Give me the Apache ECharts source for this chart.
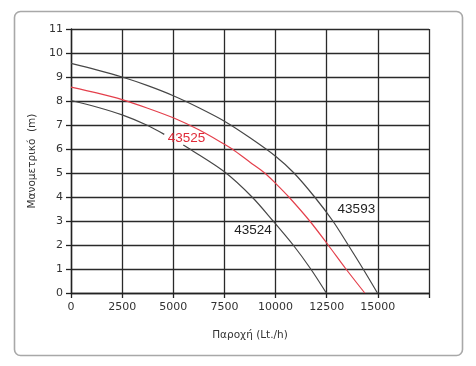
<!DOCTYPE html>
<html><head><meta charset="utf-8">
<script src="https://cdn.jsdelivr.net/npm/echarts@6/dist/echarts.min.js"></script>
<style>html,body{margin:0;padding:0;background:#fff}#c{width:476px;height:366px}</style>
</head><body><div id="c"></div>
<script>
const xTicks = [0, 2500, 5000, 7500, 10000, 12500, 15000];
const yTicks = [0,1,2,3,4,5,6,7,8,9,10,11];
const x43593 = [0, 1250, 2500, 3750, 5000, 6250, 7500, 8750, 10000, 10900, 11910, 12800, 13550, 14280, 14980];
const y43593 = [9.57, 9.3, 9.0, 8.64, 8.22, 7.72, 7.16, 6.47, 5.7, 5.0, 4.0, 3.0, 2.0, 1.0, 0];
const x43525 = [0, 1250, 2500, 3750, 5000, 6250, 7500, 7880, 8750, 9470, 10000, 10650, 11670, 12570, 13440, 14360];
const y43525 = [8.58, 8.34, 8.06, 7.7, 7.3, 6.8, 6.2, 6.0, 5.45, 5.0, 4.57, 4.0, 3.0, 2.0, 1.0, 0];
const x43524 = [0, 1250, 2500, 3750, 4560, 5000, 5490, 5810, 7500, 8850, 9880, 10860, 11720, 12480];
const y43524 = [8.02, 7.75, 7.42, 6.98, 6.61, null, 6.17, 6.0, 5.05, 4.0, 3.0, 2.0, 1.0, 0];
const seriesNames = ['43593', '43525', '43524'];
const labelX = [13950, 5650, 8900];
const labelY = [3.5, 6.45, 2.6];

const zip = (xs, ys) => xs.map((x, i) => [x, ys[i]]);
const colors = ['#474747', '#e4404c', '#474747'];
const data = [zip(x43593, y43593), zip(x43525, y43525), zip(x43524, y43524)];

const chart = echarts.init(document.getElementById('c'), null, {renderer: 'canvas'});
chart.setOption({
  animation: false,
  graphic: [{
    type: 'rect', left: 12, top: 9,
    shape: {width: 448, height: 344, r: 6},
    style: {fill: 'none', stroke: '#a8a8a8', lineWidth: 1.6}, z: -1
  }],
  grid: {left: 71, right: 47, top: 29, bottom: 73},
  xAxis: {
    type: 'value', min: 0, max: 17500, interval: 2500,
    name: 'Παροχή (Lt./h)', nameLocation: 'middle', nameGap: 37,
    nameTextStyle: {fontFamily: 'DejaVu Sans', fontSize: 10.5, color: '#333'},
    axisLine: {show: true, lineStyle: {color: '#222', width: 1.4}},
    axisTick: {show: true, length: 5, lineStyle: {color: '#222', width: 1.3}},
    axisLabel: {
      fontFamily: 'DejaVu Sans', fontSize: 11, color: '#333', margin: 9,
      formatter: v => xTicks.includes(v) ? String(v) : ''
    },
    splitLine: {show: true, lineStyle: {color: '#2a2a2a', width: 1.3}}
  },
  yAxis: {
    type: 'value', min: 0, max: 11, interval: 1,
    name: 'Μανομετρικό  (m)', nameLocation: 'middle', nameGap: 21,
    nameTextStyle: {fontFamily: 'DejaVu Sans', fontSize: 10.5, color: '#333'},
    axisLine: {show: true, lineStyle: {color: '#222', width: 1.4}},
    axisTick: {show: true, length: 5, lineStyle: {color: '#222', width: 1.3}},
    axisLabel: {
      fontFamily: 'DejaVu Sans', fontSize: 11, color: '#333', margin: 8,
      formatter: v => yTicks.includes(v) ? String(v) : ''
    },
    splitLine: {show: true, lineStyle: {color: '#2a2a2a', width: 1.3}}
  },
  series: seriesNames.map((n, i) => ({
    name: n, type: 'line', data: data[i], smooth: 0.3,
    showSymbol: false, connectNulls: false,
    lineStyle: {color: colors[i], width: 1.2},
    z: 3,
    markPoint: {
      symbol: 'circle', symbolSize: 0, silent: true,
      label: {
        show: true, position: 'inside', formatter: n,
        fontFamily: 'Liberation Sans', fontSize: 13.5, color: i === 1 ? '#e02a38' : '#222'
      },
      data: [{coord: [labelX[i], labelY[i]]}]
    }
  }))
});
</script></body></html>
